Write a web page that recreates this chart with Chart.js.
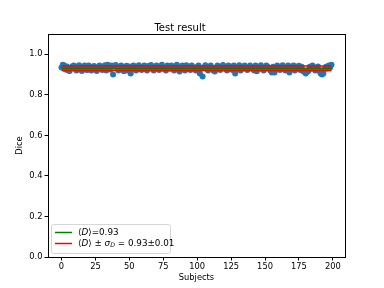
<!DOCTYPE html>
<html>
<head>
<meta charset="utf-8">
<script src="https://cdn.jsdelivr.net/npm/chart.js@4"></script>
<style>
  html, body { margin: 0; padding: 0; background: white; }
  #wrap { width: 384px; height: 288px; }
</style>
</head>
<body>
<div id="wrap"><canvas id="diceChart" width="384" height="288"></canvas></div>
<script>

// Dice score of every test subject (index = subject number)
const dice = [
  0.935,0.948,0.945,0.925,0.94,0.92,0.918,0.93,0.94,0.945,0.928,0.92,0.94,0.946,0.93,0.918,0.935,0.945,0.925,0.922,
  0.945,0.93,0.92,0.938,0.942,0.928,0.918,0.935,0.945,0.93,0.922,0.94,0.946,0.92,0.948,0.935,0.925,0.945,0.9,0.94,
  0.947,0.93,0.92,0.938,0.945,0.928,0.916,0.935,0.944,0.92,0.94,0.905,0.928,0.945,0.935,0.92,0.93,0.946,0.935,0.922,
  0.938,0.945,0.928,0.92,0.942,0.93,0.947,0.935,0.92,0.93,0.945,0.935,0.922,0.93,0.948,0.935,0.926,0.92,0.945,0.932,
  0.928,0.945,0.935,0.92,0.93,0.948,0.935,0.915,0.93,0.945,0.935,0.92,0.946,0.928,0.938,0.922,0.945,0.935,0.928,0.92,
  0.938,0.945,0.905,0.93,0.89,0.935,0.946,0.928,0.92,0.938,0.945,0.93,0.92,0.915,0.935,0.945,0.928,0.922,0.938,0.947,
  0.93,0.938,0.92,0.945,0.928,0.938,0.922,0.945,0.905,0.935,0.928,0.946,0.92,0.938,0.93,0.945,0.935,0.922,0.93,0.945,
  0.938,0.928,0.92,0.945,0.916,0.935,0.928,0.946,0.935,0.92,0.93,0.945,0.938,0.928,0.92,0.91,0.938,0.91,0.93,0.945,
  0.935,0.922,0.93,0.946,0.935,0.92,0.93,0.945,0.91,0.938,0.928,0.945,0.92,0.938,0.93,0.943,0.922,0.938,0.918,0.912,
  0.905,0.912,0.918,0.938,0.928,0.945,0.935,0.92,0.93,0.94,0.918,0.905,0.9,0.905,0.928,0.938,0.93,0.945,0.935,0.948
]

// mean and spread
const meanDice = 0.931
const stdDice = 0.0115
const firstSubject = 0
const lastSubject = 199

const xTicks = [0, 25, 50, 75, 100, 125, 150, 175, 200]
const yTicks = [0.0, 0.2, 0.4, 0.6, 0.8, 1.0]

const points = dice.map((v, i) => ({ x: i, y: v }))
const meanLine = [{ x: firstSubject, y: meanDice }, { x: lastSubject, y: meanDice }]
const upperLine = [{ x: firstSubject, y: meanDice + stdDice }, { x: lastSubject, y: meanDice + stdDice }]
const lowerLine = [{ x: firstSubject, y: meanDice - stdDice }, { x: lastSubject, y: meanDice - stdDice }]

const FONT = "'DejaVu Sans', sans-serif"

/* frame round the axes, like matplotlib spines */
const framePlugin = {
  id: 'frame',
  afterDatasetsDraw(chart){
    const a = chart.chartArea
    const ctx = chart.ctx
    ctx.save()
    ctx.strokeStyle = '#000'
    ctx.lineWidth = 1
    ctx.strokeRect(Math.round(a.left) + 0.5, Math.round(a.top) + 0.5, Math.round(a.right - a.left), Math.round(a.bottom - a.top))
    ctx.restore()
  }
}

/* legend box in the lower left corner of the axes */
const legendPlugin = {
  id: 'innerLegend',
  afterDraw(chart){
    const a = chart.chartArea
    const ctx = chart.ctx
    const bx = a.left + 3, by = a.bottom - 33, bw = 119, bh = 29
    ctx.save()
    ctx.fillStyle = 'rgba(255,255,255,0.8)'
    ctx.strokeStyle = '#d6d6d6'
    ctx.lineWidth = 1
    ctx.beginPath()
    ctx.roundRect(bx + 0.5, by + 0.5, bw, bh, 2)
    ctx.fill()
    ctx.stroke()

    const rows = [
      { color: 'green', y: by + 8.5 },
      { color: 'red', y: by + 19.5 }
    ]
    rows.forEach(r => {
      ctx.strokeStyle = r.color
      ctx.lineWidth = 1.5
      ctx.beginPath()
      ctx.moveTo(bx + 4, r.y)
      ctx.lineTo(bx + 21, r.y)
      ctx.stroke()
    })

    ctx.fillStyle = '#000'
    ctx.textBaseline = 'middle'
    let x = bx + 27
    let cur = 0

    // helper that writes a run of text and moves the pen
    function put(txt, font, dy){
      ctx.font = font
      ctx.fillText(txt, x, rows[cur].y + (dy || 0))
      x += ctx.measureText(txt).width
    }
    const normal = '8.8px ' + FONT
    const ital = 'italic 8.8px ' + FONT
    const small = 'italic 6.2px ' + FONT

    put('\u27E8', normal)
    put('D', ital)
    put('\u27E9=0.93', normal)

    cur = 1
    x = bx + 27
    put('\u27E8', normal)
    put('D', ital)
    put('\u27E9 \u00B1 ', normal)
    put('\u03C3', ital)
    put('D', small, 2)
    put(' = 0.93\u00B10.01', normal)
    ctx.restore()
  }
}

new Chart(document.getElementById('diceChart'), {
  type: 'scatter',
  data: {
    datasets: [
      {
        label: 'Dice',
        data: points,
        backgroundColor: '#1f77b4',
        borderWidth: 0,
        pointRadius: 3,
        order: 2
      },
      {
        label: 'mean',
        data: meanLine,
        type: 'line',
        showLine: true,
        borderColor: 'green',
        borderWidth: 1.5,
        pointRadius: 0,
        order: 1
      },
      {
        label: 'mean + std',
        data: upperLine,
        type: 'line',
        showLine: true,
        borderColor: 'red',
        borderWidth: 1.5,
        pointRadius: 0,
        order: 0
      },
      {
        label: 'mean - std',
        data: lowerLine,
        type: 'line',
        showLine: true,
        borderColor: 'red',
        borderWidth: 1.5,
        pointRadius: 0,
        order: 0
      }
    ]
  },
  options: {
    responsive: false,
    animation: false,
    devicePixelRatio: 1,
    layout: { padding: { left: 15, right: 39, top: 0, bottom: 5 } },
    plugins: {
      legend: { display: false },
      tooltip: { enabled: false },
      title: {
        display: true,
        text: 'Test result',
        color: '#000',
        font: { family: FONT, size: 10, weight: 'normal' },
        padding: { top: 22, bottom: 0 }
      }
    },
    scales: {
      x: {
        type: 'linear',
        min: -9.95,
        max: 208.95,
        afterBuildTicks(scale){
          scale.ticks = xTicks.map(v => ({ value: v }))
        },
        afterFit(scale){ scale.height = 26 },
        grid: { display: true, drawOnChartArea: false, drawTicks: true, tickLength: 3.5, color: '#000' },
        border: { display: false },
        ticks: { color: '#000', font: { family: FONT, size: 8.3 }, padding: 1, maxRotation: 0 },
        title: { display: true, text: 'Subjects', color: '#000', font: { family: FONT, size: 8.3 }, padding: { top: 1, bottom: 0 } }
      },
      y: {
        min: 0,
        max: 1.1,
        afterBuildTicks(scale){
          scale.ticks = yTicks.map(v => ({ value: v }))
        },
        afterFit(scale){ scale.width = 33 },
        grid: { display: true, drawOnChartArea: false, drawTicks: true, tickLength: 3.5, color: '#000' },
        border: { display: false },
        ticks: {
          color: '#000',
          font: { family: FONT, size: 8.3 },
          padding: 2,
          callback: v => v.toFixed(1)
        },
        title: { display: true, text: 'Dice', color: '#000', font: { family: FONT, size: 8.3 }, padding: { top: 0, bottom: 0 } }
      }
    }
  },
  plugins: [framePlugin, legendPlugin]
})

</script>
</body>
</html>
